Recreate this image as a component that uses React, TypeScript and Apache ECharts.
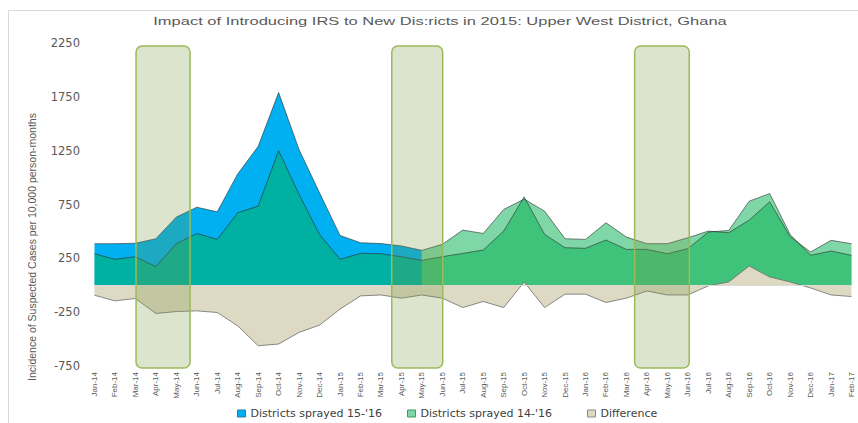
import React, { useEffect, useRef } from "react";
import * as echarts from "echarts";

const TITLE = "Impact of Introducing IRS to New Dis:ricts in 2015: Upper West District, Ghana";
const Y_NAME = "Incidence of Suspected Cases per 10,000 person-months";

const months = [
  "Jan-14", "Feb-14", "Mar-14", "Apr-14", "May-14", "Jun-14", "Jul-14", "Aug-14", "Sep-14", "Oct-14", "Nov-14", "Dec-14",
  "Jan-15", "Feb-15", "Mar-15", "Apr-15", "May-15", "Jun-15", "Jul-15", "Aug-15", "Sep-15", "Oct-15", "Nov-15", "Dec-15",
  "Jan-16", "Feb-16", "Mar-16", "Apr-16", "May-16", "Jun-16", "Jul-16", "Aug-16", "Sep-16", "Oct-16", "Nov-16", "Dec-16",
  "Jan-17", "Feb-17",
];

// Districts sprayed 15-'16
const sprayed1516 = [
  386, 386, 390, 432, 633, 725, 682, 1034, 1290, 1790, 1259, 858,
  463, 395, 387, 365, 324, 380, 512, 481, 704, 800, 688, 432,
  426, 580, 447, 386, 386, 441, 503, 488, 605, 775, 451, 309,
  417, 386,
];

// Districts sprayed 14-'16
const sprayed1416 = [
  293, 241, 265, 173, 386, 481, 426, 673, 735, 1250, 843, 472,
  241, 296, 293, 265, 231, 265, 296, 327, 503, 821, 472, 349,
  343, 420, 333, 333, 293, 340, 494, 509, 781, 852, 472, 278,
  318, 278,
];

// Difference
const difference = [
  -93, -145, -123, -262, -244, -238, -253, -377, -562, -546, -438, -370,
  -222, -99, -90, -120, -90, -120, -207, -151, -207, 30, -207, -83,
  -83, -160, -120, -53, -90, -90, -6, 31, 179, 77, 31, -25,
  -90, -105,
];

// month index from which the 15-'16 districts are drawn in green (spraying started)
const SWITCH_INDEX = 16;

const Y_MIN = -750;
const Y_MAX = 2250;
const Y_INTERVAL = 500;

// spraying-season highlight boxes: [start, end] in (fractional) month positions
const sprayBoxes = [
  [2.03, 4.67],
  [14.53, 17.02],
  [26.4, 29.07],
];
const BOX_TOP_VALUE = 2222;
const BOX_BOTTOM_VALUE = -768;

const NAME_1516 = "Districts sprayed 15-'16";
const NAME_1416 = "Districts sprayed 14-'16";
const NAME_DIFF = "Difference";

export default function App() {
  const ref = useRef<HTMLDivElement>(null);

  useEffect(() => {
    document.body.style.margin = "0";
    const chart = echarts.init(ref.current as HTMLDivElement, undefined, { renderer: "svg" });

    const pre = sprayed1516.map((v, i) => (i <= SWITCH_INDEX ? v : null));
    const post = sprayed1516.map((v, i) => (i >= SWITCH_INDEX ? v : null));
    const greenAlpha = "rgba(0,176,80,0.5)";
    const outline = "rgba(45,45,45,0.6)";

    const legendText = { fontFamily: "DejaVu Sans", fontSize: 11, color: "#404040" };
    const mkLegend = (left: number, name: string, color: string, border: string) => ({
      left,
      top: 403,
      icon: "rect",
      itemWidth: 8,
      itemHeight: 7,
      itemGap: 0,
      selectedMode: false,
      textStyle: legendText,
      data: [{ name, itemStyle: { color, borderColor: border, borderWidth: 1 } }],
    });

    chart.setOption({
      animation: false,
      backgroundColor: "#ffffff",
      grid: { left: 94.5, right: 6.5, top: 43, bottom: 57, containLabel: false },
      legend: [
        mkLegend(232, NAME_1516, "#00B0F0", "#2080A8"),
        mkLegend(402, NAME_1416, "#7FD6A6", "#3A9A62"),
        mkLegend(582, NAME_DIFF, "#DDD9C3", "#8C8C8C"),
      ],
      xAxis: {
        type: "category",
        data: months,
        boundaryGap: false,
        axisLine: { show: false },
        axisTick: { show: false },
        axisLabel: {
          interval: 0,
          rotate: 90,
          margin: 6,
          fontFamily: "Liberation Sans",
          fontSize: 8,
          color: "#595959",
        },
        splitLine: { show: false },
      },
      yAxis: {
        type: "value",
        min: Y_MIN,
        max: Y_MAX,
        interval: Y_INTERVAL,
        axisLine: { show: false },
        axisTick: { show: false },
        splitLine: { show: false },
        axisLabel: {
          margin: 14.5,
          fontFamily: "DejaVu Sans",
          fontSize: 11.5,
          color: "#595959",
          formatter: (v: number) => String(v),
        },
      },
      series: [
        {
          name: NAME_1516,
          type: "line",
          data: pre,
          symbol: "none",
          lineStyle: { color: outline, width: 1 },
          itemStyle: { color: "#00B0F0" },
          areaStyle: { color: "#00B0F0", opacity: 1 },
          z: 2,
        },
        {
          name: NAME_1516,
          type: "line",
          data: post,
          symbol: "none",
          lineStyle: { color: outline, width: 1 },
          itemStyle: { color: greenAlpha },
          areaStyle: { color: greenAlpha, opacity: 1 },
          z: 2,
        },
        {
          name: NAME_1416,
          type: "line",
          data: sprayed1416,
          symbol: "none",
          lineStyle: { color: outline, width: 1 },
          itemStyle: { color: greenAlpha },
          areaStyle: { color: greenAlpha, opacity: 1 },
          z: 2,
        },
        {
          name: NAME_DIFF,
          type: "line",
          data: difference,
          symbol: "none",
          lineStyle: { color: "rgba(110,110,110,0.8)", width: 1 },
          itemStyle: { color: "#DDD9C3" },
          areaStyle: { color: "#DDD9C3", opacity: 1 },
          z: 2,
          markLine: {
            silent: true,
            symbol: "none",
            label: { show: false },
            lineStyle: { color: "#D9D9D9", width: 1, type: "solid" },
            data: [{ yAxis: 0 }],
          },
        },
      ],
    });

    const px = (i: number) => chart.convertToPixel({ xAxisIndex: 0 }, months[i]) as number;
    const x0 = px(0);
    const step = px(1) - x0;
    const yTop = chart.convertToPixel({ yAxisIndex: 0 }, BOX_TOP_VALUE) as number;
    const yBottom = chart.convertToPixel({ yAxisIndex: 0 }, BOX_BOTTOM_VALUE) as number;

    const boxes = sprayBoxes.map(([a, b], k) => ({
      type: "rect",
      id: "box" + k,
      z: 100,
      silent: true,
      shape: { x: x0 + a * step, y: yTop, width: (b - a) * step, height: yBottom - yTop, r: 6 },
      style: { fill: "rgba(118,146,60,0.25)", stroke: "#9BBB59", lineWidth: 1.5 },
    }));

    chart.setOption({
      graphic: {
        elements: [
          {
            type: "rect",
            id: "frame",
            z: -1,
            silent: true,
            shape: { x: 8.5, y: 10.5, width: 900, height: 500 },
            style: { fill: "none", stroke: "#D9D9D9", lineWidth: 1 },
          },
          {
            type: "text",
            id: "title",
            z: 100,
            x: 440,
            y: 21,
            scaleX: 1.5,
            style: {
              text: TITLE,
              fontFamily: "Liberation Sans",
              fontSize: 11,
              fill: "#595959",
              align: "center",
              verticalAlign: "middle",
              textAlign: "center",
              textVerticalAlign: "middle",
            },
          },
          {
            type: "text",
            id: "yname",
            z: 100,
            x: 32,
            y: 247,
            rotation: Math.PI / 2,
            style: {
              text: Y_NAME,
              fontFamily: "Liberation Sans",
              fontSize: 10.5,
              fill: "#595959",
              align: "center",
              verticalAlign: "middle",
              textAlign: "center",
              textVerticalAlign: "middle",
            },
          },
          ...boxes,
        ],
      },
    });

    return () => chart.dispose();
  }, []);

  return <div ref={ref} style={{ width: 858, height: 423 }} />;
}
